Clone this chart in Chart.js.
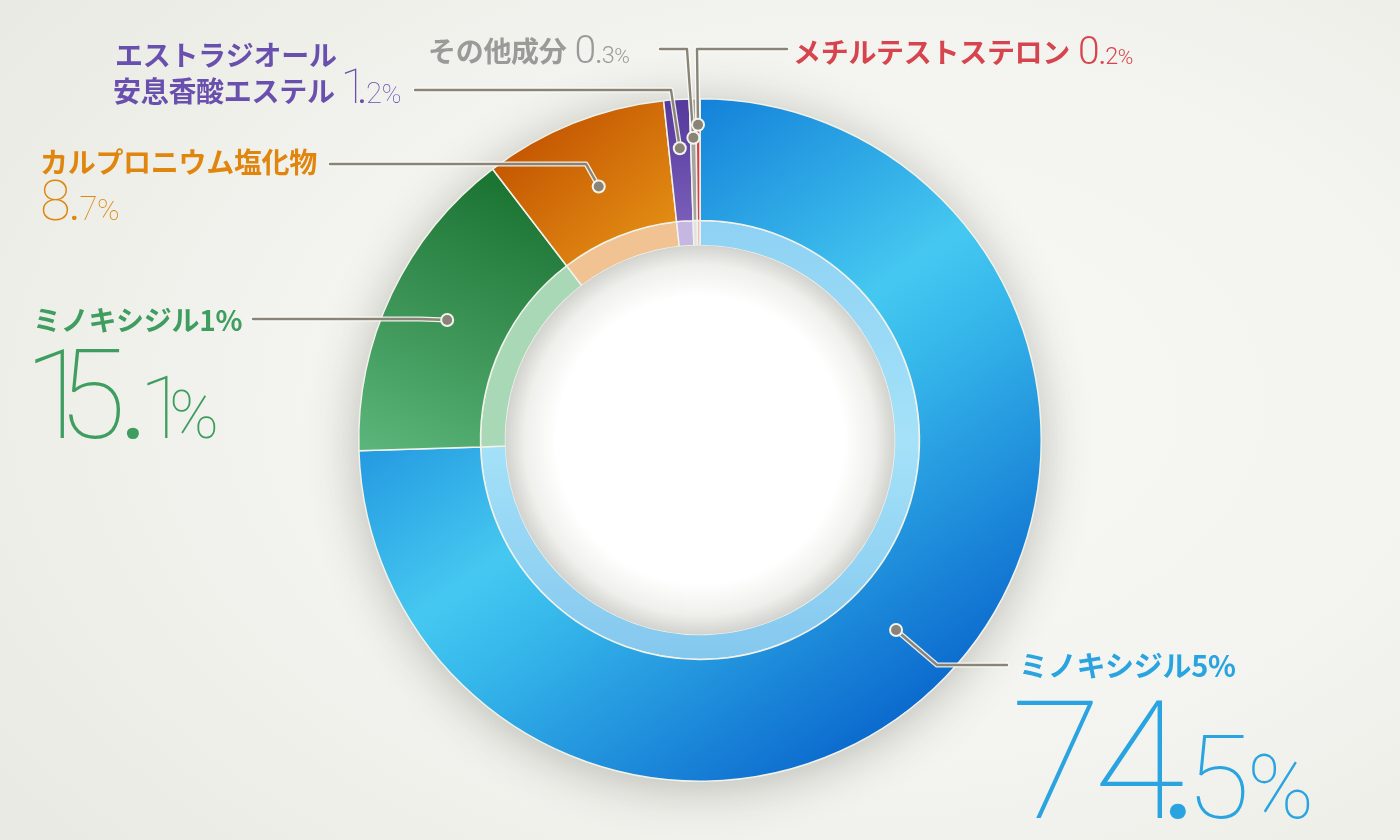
<!DOCTYPE html>
<html lang="ja">
<head>
<meta charset="UTF-8">
<title>成分比率</title>
<script src="https://cdn.jsdelivr.net/npm/chart.js"></script>
<style>
  html, body { margin: 0; padding: 0; }
  body {
    width: 1400px; height: 840px; overflow: hidden;
    background: radial-gradient(ellipse 75% 80% at 62% 48%, #f8f9f5 0%, #f3f4ef 55%, #e9eae3 100%);
  }
  #wrap { position: relative; width: 1400px; height: 840px; }
</style>
</head>
<body>
<div id="wrap"><canvas id="chart"></canvas></div>
<script>
// 成分データ
const names = ['ミノキシジル5%', 'ミノキシジル1%', 'カルプロニウム塩化物', 'エストラジオール安息香酸エステル', 'その他成分', 'メチルテストステロン'];
const titleLines = [['ミノキシジル5%'], ['ミノキシジル1%'], ['カルプロニウム塩化物'], ['エストラジオール', '安息香酸エステル'], ['その他成分'], ['メチルテストステロン']];
const values = [74.5, 15.1, 8.7, 1.2, 0.3, 0.2];
const textColors = ['#2aa3e1', '#3e9d5f', '#e0860f', '#6a50ae', '#9a9a98', '#d6454d'];

// ラベルの配置（レイアウト）
const labelLayout = [
  { title: [1019, 677], num: [1017, 818], size: 166, dr: 0.7, numBelow: true, dot: 0.80, path: [[937, 665], [1007, 665]] },
  { title: [33, 331],   num: [35, 438],   size: 124, dr: 0.7, numBelow: true, dot: 0.82, path: [[420, 319], [253, 319]] },
  { title: [40, 173],   num: [42, 220],   size: 56,  dr: 0.6, numBelow: true, dot: 0.80, path: [[586, 164], [330, 164]] },
  { title: [115, 66],   num: null,        size: 49,  dr: 0.6, numBelow: false, dot: 0.857, path: [[671, 90], [415, 90]], line2: [113, 102] },
  { title: [428, 62],   num: null,        size: 39,  dr: 0.6, numBelow: false, dot: 0.886, path: [[687, 49], [660, 49]] },
  { title: [793, 63],   num: null,        size: 39,  dr: 0.6, numBelow: false, dot: 0.924, path: [[697, 49], [787, 49]] }
];

const THIN = '"Roboto", "Inter", sans-serif';
const JP = '"Noto Sans CJK JP", "Noto Sans", sans-serif';
// 小数点の前の詰め（em）
const dotKern = { '4': -0.13 };

let gradCache = null;
function buildGradients(chart) {
  const ctx = chart.ctx;
  const a = chart.chartArea;
  const cx = (a.left + a.right) / 2, cy = (a.top + a.bottom) / 2;
  const R = Math.min(a.right - a.left, a.bottom - a.top) / 2;
  function lin(x0, y0, x1, y1, stops) {
    const g = ctx.createLinearGradient(cx + x0 * R, cy + y0 * R, cx + x1 * R, cy + y1 * R);
    stops.forEach(s => g.addColorStop(s[0], s[1]));
    return g;
  }
  const outer = [
    lin(-0.41, -0.82, 0.76, 0.82, [[0, '#0d78d6'], [0.42, '#45c8f0'], [0.52, '#38bbec'], [1, '#0660ca']]),
    lin(-0.6, -0.75, -0.95, 0.05, [[0, '#1c7533'], [1, '#5cb57a']]),
    lin(-0.5, -0.95, -0.15, -0.55, [[0, '#c25200'], [1, '#e38e14']]),
    lin(-0.1, -1.0, -0.05, -0.6, [[0, '#54389b'], [1, '#7d61bc']]),
    '#a4a4a2',
    '#d4403f'
  ];
  const inner = [
    lin(0, -0.65, 0, 0.65, [[0, '#8ed1f3'], [0.5, '#a5e2f9'], [1, '#84c7ee']]),
    '#a9d8b6',
    '#f1c292',
    '#c5b7e2',
    '#e2e2e0',
    '#f2b6b6'
  ];
  gradCache = { w: chart.width, h: chart.height, outer, inner };
}
function fill(which, fallback) {
  return (c) => {
    const chart = c.chart;
    if (!chart.chartArea) return fallback[c.dataIndex];
    if (!gradCache || gradCache.w !== chart.width || gradCache.h !== chart.height) buildGradients(chart);
    return gradCache[which][c.dataIndex];
  };
}

// 影と中心の穴
const ringShadow = {
  id: 'ringShadow',
  beforeDatasetsDraw(chart) {
    const arc = chart.getDatasetMeta(0).data[0];
    if (!arc) return;
    const { x, y, outerRadius } = arc.getProps(['x', 'y', 'outerRadius'], true);
    const ctx = chart.ctx;
    ctx.save();
    ctx.shadowColor = 'rgba(60,60,50,0.32)';
    ctx.shadowBlur = 50;
    ctx.shadowOffsetY = 6;
    ctx.beginPath();
    ctx.arc(x, y, outerRadius, 0, Math.PI * 2);
    ctx.fillStyle = '#e4e6e0';
    ctx.fill();
    ctx.restore();
  },
  afterDatasetsDraw(chart) {
    const arc = chart.getDatasetMeta(1).data[0];
    if (!arc) return;
    const { x, y, innerRadius } = arc.getProps(['x', 'y', 'innerRadius'], true);
    const ctx = chart.ctx;
    const g = ctx.createRadialGradient(x, y, 0, x, y, innerRadius);
    g.addColorStop(0, '#ffffff');
    g.addColorStop(0.74, '#ffffff');
    g.addColorStop(0.9, '#efefec');
    g.addColorStop(1, '#d2d2ce');
    ctx.save();
    ctx.beginPath();
    ctx.arc(x, y, innerRadius, 0, Math.PI * 2);
    ctx.fillStyle = g;
    ctx.fill();
    ctx.restore();
  }
};

// グリフの外形で詰めて描く
function piece(ctx, text, x, baseline) {
  const m = ctx.measureText(text);
  ctx.fillText(text, x + m.actualBoundingBoxLeft, baseline);
  return x + m.actualBoundingBoxLeft + m.actualBoundingBoxRight;
}

function drawNumber(ctx, x, baseline, value, size, dr, color) {
  const parts = String(value).split('.');
  const small = size * dr, pct = size * 0.54;
  const w = size >= 48 ? 100 : 300;
  ctx.fillStyle = color;
  ctx.textBaseline = 'alphabetic';
  ctx.textAlign = 'left';
  ctx.font = `${w} ${size}px ${THIN}`;
  parts[0].split('').forEach((ch, k) => {
    if (k) x += size * 0.04;
    x = piece(ctx, ch, x, baseline);
  });
  if (parts[1]) {
    const last = parts[0].slice(-1);
    x += size * (0.05 + (dotKern[last] || 0));
    ctx.font = `500 ${small}px ${THIN}`;
    x = piece(ctx, '.', x, baseline);
    x += size * 0.06;
    ctx.font = `${w} ${small}px ${THIN}`;
    x = piece(ctx, parts[1], x, baseline);
  }
  x += size * 0.035;
  ctx.font = `${w} ${pct}px ${THIN}`;
  piece(ctx, '%', x, baseline);
}

const leaderLabels = {
  id: 'leaderLabels',
  afterDraw(chart) {
    const ctx = chart.ctx;
    const meta = chart.getDatasetMeta(0);
    ctx.save();
    meta.data.forEach((arc, i) => {
      const L = labelLayout[i];
      const p = arc.getProps(['x', 'y', 'startAngle', 'endAngle', 'outerRadius'], true);
      const mid = (p.startAngle + p.endAngle) / 2;
      const r = p.outerRadius * L.dot;
      const dx = p.x + Math.cos(mid) * r, dy = p.y + Math.sin(mid) * r;
      const pts = [[dx, dy]].concat(L.path);
      // 引き出し線
      ctx.lineJoin = 'round';
      ctx.lineCap = 'round';
      [[5, 'rgba(252,252,246,0.9)'], [2.4, '#8a8478']].forEach(([w, c]) => {
        ctx.beginPath();
        pts.forEach((q, k) => k ? ctx.lineTo(q[0], q[1]) : ctx.moveTo(q[0], q[1]));
        ctx.lineWidth = w;
        ctx.strokeStyle = c;
        ctx.stroke();
      });
      ctx.beginPath();
      ctx.arc(dx, dy, 7, 0, Math.PI * 2);
      ctx.fillStyle = '#f4f4ee';
      ctx.fill();
      ctx.beginPath();
      ctx.arc(dx, dy, 5, 0, Math.PI * 2);
      ctx.fillStyle = '#8a8478';
      ctx.fill();

      // 成分名
      const col = textColors[i];
      ctx.fillStyle = col;
      ctx.textAlign = 'left';
      ctx.textBaseline = 'alphabetic';
      ctx.letterSpacing = '-0.3px';
      ctx.font = `bold ${i === 0 ? 29 : 28}px ${JP}`;
      const lines = titleLines[i];
      ctx.fillText(lines[0], L.title[0], L.title[1]);
      let endX = L.title[0] + ctx.measureText(lines[0]).width;
      let baseY = L.title[1];
      if (lines[1]) {
        ctx.fillText(lines[1], L.line2[0], L.line2[1]);
        endX = L.line2[0] + ctx.measureText(lines[1]).width;
        baseY = L.line2[1];
      }
      ctx.letterSpacing = '0px';
      // 比率
      if (L.numBelow) {
        drawNumber(ctx, L.num[0], L.num[1], values[i], L.size, L.dr, col);
      } else {
        drawNumber(ctx, endX + 10, baseY + 1, values[i], L.size, L.dr, col);
      }
    });
    ctx.restore();
  }
};

const fallbackOuter = ['#2aa3e1', '#3e9d5f', '#d97008', '#6a50ae', '#a4a4a2', '#d4403f'];
const fallbackInner = ['#9ddcf7', '#a9d8b6', '#f1c292', '#c5b7e2', '#e2e2e0', '#f2b6b6'];

new Chart(document.getElementById('chart'), {
  type: 'doughnut',
  data: {
    labels: names,
    datasets: [
      { data: values, backgroundColor: fill('outer', fallbackOuter), borderColor: '#f1f2ea', borderWidth: 1.5, weight: 122 },
      { data: values, backgroundColor: fill('inner', fallbackInner), borderColor: '#f1f2ea', borderWidth: 1.5, weight: 25 }
    ]
  },
  options: {
    responsive: true,
    maintainAspectRatio: false,
    animation: false,
    cutout: '57%',
    layout: { padding: { top: 98, bottom: 58, left: 0, right: 0 } },
    plugins: { legend: { display: false }, tooltip: { enabled: false } }
  },
  plugins: [ringShadow, leaderLabels]
});
</script>
</body>
</html>
